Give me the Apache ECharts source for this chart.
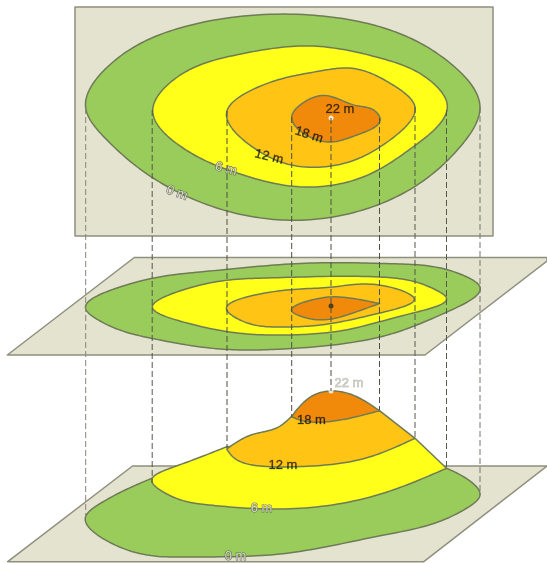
<!DOCTYPE html>
<html><head><meta charset="utf-8">
<style>html,body{margin:0;padding:0;background:#fff}#c{width:547px;height:563px}</style>
<script src="https://cdn.jsdelivr.net/npm/echarts@6/dist/echarts.min.js"></script>
</head><body><div id="c"></div>
<script>
// Map panels (square corners / parallelograms), in map units
const panelTop = [[75,7],[493,7],[493,236],[75,236]];
const panelMid = [[134.3,257.5],[547,257.5],[547,261],[425,355],[7.3,355]];
const panelLow = [[132.5,466],[547,466],[423.8,561.7],[7.7,561.7]];

// Contours seen from above
const top0 = [[85.7,108],[113,62],[180,28],[310,15],[390,30],[450,63],[480,107],[460,147],[400,195],[305,220],[227,211],[153,178],[105,138]];
const top6 = [[152.7,110],[176,78],[236,55],[310,46],[380,58],[433,83],[447,103],[413,147],[363,177],[303,187],[237,173],[183,148]];
const top12 = [[226.7,112],[256,88],[320,71],[347,68],[393,85],[415,107],[390,140],[337,165],[305,167],[257,150]];
const top18 = [[291.7,117],[306,101],[325,95.5],[356,105.5],[375,111],[380,118],[357,135],[330,142],[310,137]];

// Contours in perspective
const mid0 = [[85.7,309],[117,288],[200,272],[300,263.5],[400,264],[460,274],[480,287],[447,312],[380,337],[283,349],[220,349],[150,338],[100,321]];
const mid6 = [[152.3,307],[186,289],[267,278],[380,277],[436,290],[446,297],[413,313],[333,332],[270,335],[187,323]];
const mid12 = [[226.7,310],[260,294],[333,287],[385,286],[414.3,299],[380,313],[310,326],[275,327],[240,320]];
const mid18 = [[291.7,311],[316,299],[340,297],[379.5,303.5],[353,313],[303,317]];

// Terrain silhouette bands
const low0 = [[85.5,517],[111,543],[188,557],[280,554],[384,535],[467,508],[480,495],[464,477],[446.5,468.3],[300,470],[151.7,478.3],[101,503]];
const low6 = [[151.7,481],[175,466.5],[226.7,446.7],[320,440],[415,438.3],[446.5,468.3],[384,493],[279,509],[209,505],[165,493]];
const low12 = [[226.7,449],[251,435],[279,426.7],[291.3,416.7],[335,412],[379.5,410.7],[415,438.3],[366,458],[297,466.7],[260,466],[232,456]];
const low18 = [[291.3,416.7],[314,395],[331,391],[350,394],[379.5,410.7],[330,421.5],[300,420]];

// Projection lines: [x, from, to]
const drops = [[85.7,108,517],[152.2,110,483],[227,111,448],[291.7,117,417],[331,118,391],[379.5,118,410],[415,107,438],[446.5,110,468],[480,107,495]];
const dropShade = ['#85857a','#55584a','#4d5040','#4d5040','#4d5040','#4d5040','#55584a','#55584a','#77776c'];

// Height labels
const labelNames = ['22 m','18 m','12 m','6 m','0 m','22 m','18 m','12 m','6 m','0 m'];
const labelAt = [[340,109],[309,135],[269,157],[226,169],[177,193],[349,383],[311.5,420],[283,465],[261.5,508],[235.5,556]];
const labelTurn = [0,-18,-14,-14,-20,0,0,0,0,0];
const labelKind = ['dark','dark','dark','pale','pale','ghost','dark','dark','pale','pale'];

const markers = [[331,118],[331,306],[331,391]];
const markerFill = ['#ffffff','#2a2a1a','#ffffff'];

const LINE = '#6f7b56', EDGE = '#8f8f7e';
const BEIGE = '#e4e3d0', GREEN = '#99cc5a', YELLOW = '#ffff1a', AMBER = '#ffc414', ORANGE = '#f18a0a';

// C2 cubic spline through pts (open run or closed loop), sampled for drawing.
function spline(pts, closed) {
  const n = pts.length, segs = closed ? n : n - 1;
  const at = i => pts[(i + n) % n];
  const h = [];
  for (let i = 0; i < segs; i++) h.push(Math.hypot(at(i+1)[0]-at(i)[0], at(i+1)[1]-at(i)[1]) || 1);
  const m = pts.map(() => [0, 0]);
  for (let it = 0; it < 400; it++) {
    for (let i = 0; i < n; i++) for (let c = 0; c < 2; c++) {
      if (!closed && i === 0) m[0][c] = (3*(pts[1][c]-pts[0][c])/h[0] - m[1][c]) / 2;
      else if (!closed && i === n-1) m[i][c] = (3*(pts[i][c]-pts[i-1][c])/h[i-1] - m[i-1][c]) / 2;
      else {
        const a = h[(i-1+segs)%segs], b = h[i%segs];
        m[i][c] = (3*(b*(at(i)[c]-at(i-1)[c])/a + a*(at(i+1)[c]-at(i)[c])/b) - b*m[(i-1+n)%n][c] - a*m[(i+1)%n][c]) / (2*(a+b));
      }
    }
  }
  const out = [];
  for (let i = 0; i < segs; i++) {
    const p = at(i), q = at(i+1), d = h[i], u = m[i], v = m[(i+1)%n];
    for (let k = 0; k < 20; k++) {
      const s = k/20, s2 = s*s, s3 = s2*s;
      const a0 = 2*s3-3*s2+1, a1 = s3-2*s2+s, a2 = -2*s3+3*s2, a3 = s3-s2;
      out.push([a0*p[0]+a1*d*u[0]+a2*q[0]+a3*d*v[0], a0*p[1]+a1*d*u[1]+a2*q[1]+a3*d*v[1]]);
    }
  }
  if (!closed) out.push(pts[n-1]);
  return out;
}
// `corners` lists the points kept sharp; the curve is split into runs there.
function curve(px, corners) {
  if (!corners.length) return spline(px, true);
  let out = [];
  corners.forEach((c, idx) => {
    const e = corners[(idx + 1) % corners.length], run = [];
    let i = c;
    do { run.push(px[i]); i = (i + 1) % px.length; } while (i !== e);
    run.push(px[e]);
    out = out.concat(run.length === 2 ? run : spline(run, false));
  });
  return out;
}
function shape(pts, fill, stroke, corners) {
  return {
    type: 'custom', coordinateSystem: 'cartesian2d', silent: true, clip: false,
    data: pts, encode: {x: 0, y: 1},
    renderItem(p, api) {
      if (p.dataIndex !== 0) return null;
      const px = pts.map(q => api.coord(q));
      return {type: 'polygon',
        shape: {points: corners ? curve(px, corners) : px},
        style: {fill: fill, stroke: stroke, lineWidth: 1.5, lineJoin: 'round'}};
    }
  };
}
const kinds = {
  dark: {color: '#111108', textBorderColor: 'rgba(17,17,8,.55)', textBorderWidth: .5},
  pale: {color: '#f4f4ea', textBorderColor: '#55584a', textBorderWidth: 1.2},
  ghost: {color: '#d0d0c4', textBorderColor: '#8a8a80', textBorderWidth: .5}
};
const series = [
  shape(panelTop, BEIGE, EDGE), shape(panelMid, BEIGE, EDGE), shape(panelLow, BEIGE, EDGE),
  shape(top0, GREEN, LINE, []), shape(top6, YELLOW, LINE, []), shape(top12, AMBER, LINE, []), shape(top18, ORANGE, LINE, []),
  shape(mid0, GREEN, LINE, []), shape(mid6, YELLOW, LINE, []), shape(mid12, AMBER, LINE, []), shape(mid18, ORANGE, LINE, [3]),
  shape(low0, GREEN, LINE, [8,9,10]), shape(low6, YELLOW, LINE, [2,3,4,5]), shape(low12, AMBER, LINE, [0,3,4,5,6]), shape(low18, ORANGE, LINE, [0,4])
];
drops.forEach((d, i) => series.push({
  type: 'line', silent: true, symbol: 'none', animation: false,
  data: [[d[0], d[1]], [d[0], d[2]]],
  lineStyle: {color: dropShade[i], width: 1, type: [6, 3]}
}));
series.push({
  type: 'scatter', silent: true, symbol: 'circle', symbolSize: 5,
  data: markers.map((m, i) => ({value: m, itemStyle: {color: markerFill[i]}}))
});
series.push({
  type: 'scatter', silent: true, symbolSize: 1, itemStyle: {color: 'transparent'},
  data: labelAt.map((a, i) => ({
    value: a,
    label: Object.assign({show: true, position: 'inside', formatter: labelNames[i], rotate: labelTurn[i],
      fontFamily: 'Liberation Sans', fontSize: 13}, kinds[labelKind[i]])
  }))
});
const chart = echarts.init(document.getElementById('c'), null, {renderer: 'canvas'});
chart.setOption({
  animation: false,
  backgroundColor: '#fff',
  grid: {left: 0, right: 0, top: 0, bottom: 0},
  xAxis: {type: 'value', min: 0, max: 547, show: false},
  yAxis: {type: 'value', min: 0, max: 563, inverse: true, show: false},
  series: series
});
</script></body></html>
